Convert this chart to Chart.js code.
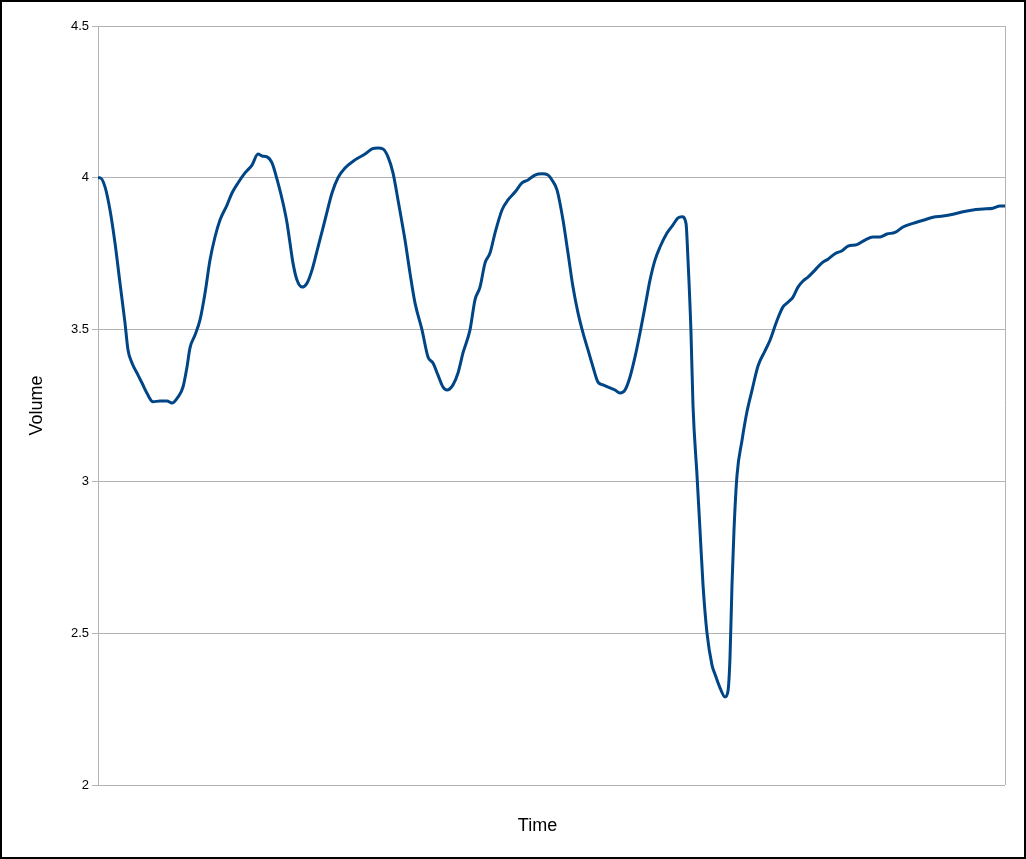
<!DOCTYPE html>
<html>
<head>
<meta charset="utf-8">
<script src="https://cdn.jsdelivr.net/npm/chart.js@4.4.0/dist/chart.umd.min.js"></script>
<style>
  html, body { margin: 0; padding: 0; background: #fff; }
  #frame { width: 1026px; height: 859px; box-sizing: border-box; border: 2px solid #000; background: #fff; }
  canvas { display: block; }
</style>
</head>
<body>
<div id="frame"><canvas id="c" width="1022" height="855"></canvas></div>
<script>
const times = [0,2,7,12,17,22,27,30,34,39,44,49,55,62,69,74,80,85,89,92,97,102,107,112,117,122,129,134,140,147,154,160,164,169,174,180,185,189,192,195,199,204,209,214,220,227,234,240,247,257,267,274,280,285,290,295,300,307,312,317,324,330,335,340,345,349,355,360,365,372,377,382,387,392,397,404,410,417,424,430,437,444,450,454,459,465,470,475,480,485,490,495,500,505,512,517,522,527,532,537,542,547,552,557,562,569,575,580,584,588,590,593,595,599,602,605,609,614,617,622,627,630,632,634,636,639,644,649,654,660,667,672,679,685,690,695,700,705,710,717,724,730,737,744,750,759,767,775,782,789,797,805,815,825,835,845,855,865,875,885,895,902,907];
const volumes = [4.00,4.00,3.97,3.894,3.785,3.653,3.522,3.433,3.39,3.357,3.324,3.29,3.262,3.265,3.265,3.258,3.278,3.311,3.377,3.44,3.482,3.532,3.62,3.729,3.805,3.861,3.91,3.95,3.983,4.016,4.042,4.078,4.072,4.069,4.049,3.983,3.917,3.852,3.785,3.719,3.663,3.64,3.653,3.696,3.772,3.861,3.95,4.0,4.032,4.059,4.078,4.095,4.098,4.095,4.069,4.016,3.927,3.795,3.686,3.588,3.499,3.41,3.39,3.35,3.311,3.301,3.318,3.357,3.423,3.499,3.598,3.64,3.719,3.752,3.818,3.894,3.927,3.953,3.983,3.993,4.009,4.013,4.009,3.993,3.96,3.861,3.752,3.64,3.555,3.489,3.433,3.377,3.327,3.318,3.308,3.301,3.291,3.301,3.344,3.41,3.489,3.575,3.663,3.729,3.772,3.818,3.845,3.868,3.872,3.85,3.73,3.49,3.25,3.02,2.84,2.66,2.50,2.395,2.365,2.32,2.29,2.31,2.42,2.66,2.84,3.02,3.135,3.23,3.30,3.38,3.43,3.465,3.53,3.575,3.59,3.607,3.64,3.66,3.673,3.696,3.72,3.732,3.75,3.76,3.775,3.78,3.795,3.805,3.805,3.815,3.82,3.838,3.85,3.86,3.87,3.874,3.88,3.888,3.894,3.897,3.90,3.907,3.907];
const yTicks = [2, 2.5, 3, 3.5, 4, 4.5];
const xEdges = [0, 907];
const xTitle = 'Time';
const yTitle = 'Volume';

const FONT = "'Liberation Sans', Arial, sans-serif";
const GRID = '#b3b3b3';

const xTitlePlugin = {
  id: 'xTitle',
  afterDraw(chart) {
    const { ctx, chartArea } = chart;
    ctx.save();
    ctx.fillStyle = '#000';
    ctx.font = '18px ' + FONT;
    ctx.textAlign = 'center';
    ctx.textBaseline = 'middle';
    ctx.fillText(xTitle, (chartArea.left + chartArea.right) / 2 - 14, chartArea.bottom + 41);
    ctx.restore();
  }
};

new Chart(document.getElementById('c'), {
  type: 'line',
  data: {
    datasets: [{
      data: times.map((t, i) => ({ x: t, y: volumes[i] })),
      borderColor: '#004586',
      borderWidth: 3,
      pointRadius: 0,
      fill: false,
      cubicInterpolationMode: 'monotone'
    }]
  },
  plugins: [xTitlePlugin],
  options: {
    responsive: false,
    devicePixelRatio: 1,
    animation: false,
    layout: { padding: { left: 0, right: 19, top: 24, bottom: 0 } },
    plugins: { legend: { display: false }, tooltip: { enabled: false } },
    scales: {
      x: {
        type: 'linear',
        min: xEdges[0],
        max: xEdges[1],
        afterBuildTicks: s => { s.ticks = xEdges.map(v => ({ value: v })); },
        afterFit: s => { s.height = 72; },
        ticks: { display: false },
        grid: { color: GRID, lineWidth: 1, drawTicks: false },
        border: { display: false },
        title: { display: false }
      },
      y: {
        type: 'linear',
        min: yTicks[0],
        max: yTicks[yTicks.length - 1],
        afterBuildTicks: s => { s.ticks = yTicks.map(v => ({ value: v })); },
        afterFit: s => { s.width = 96; },
        ticks: { color: '#000', padding: 3, font: { family: FONT, size: 13 }, callback: v => String(v) },
        grid: { color: GRID, lineWidth: 1, tickLength: 6 },
        border: { display: true, color: GRID },
        title: { display: true, text: yTitle, color: '#000', font: { family: FONT, size: 18 }, padding: { top: 24, bottom: 0 } }
      }
    }
  }
});
</script>
</body>
</html>
